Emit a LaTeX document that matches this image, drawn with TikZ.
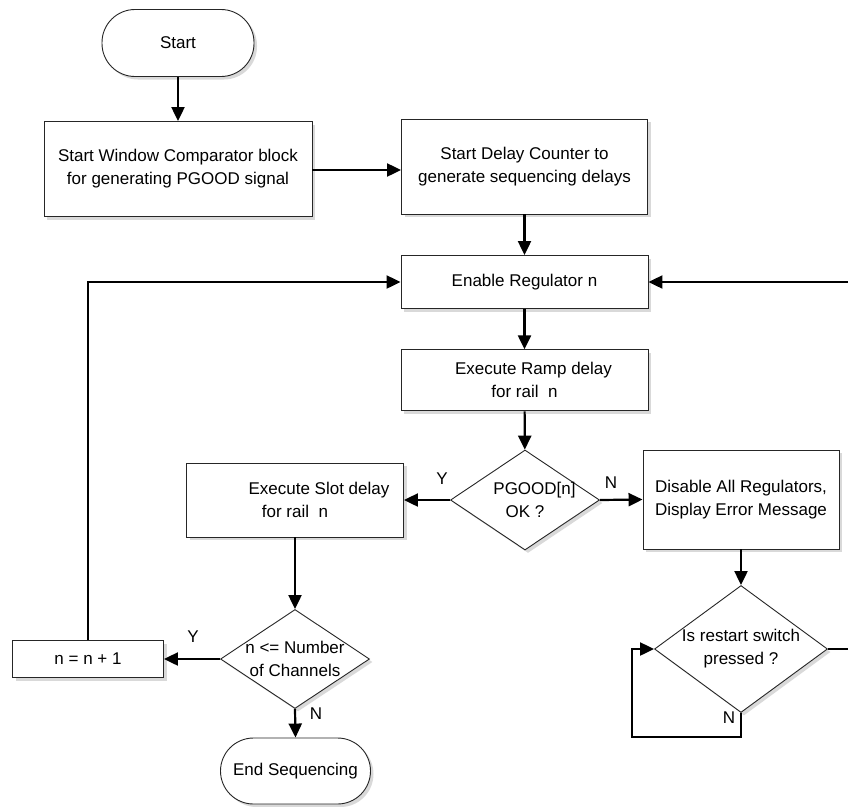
\documentclass[tikz,border=0pt]{standalone}
\usepackage{fontspec}
\setmainfont{Liberation Sans}
\usetikzlibrary{shapes.geometric}
\usetikzlibrary{arrows.meta}
\usetikzlibrary{shadows}
\tikzset{
  fsize/.style={font=\fontsize{17}{23}\selectfont},
  shadebox/.style={drop shadow={shadow xshift=3pt,shadow yshift=-3pt,fill=black!15,opacity=1}},
  terminal/.style={draw=black!85, line width=0.9pt, fill=white, shadebox, rectangle, rounded corners=33pt, inner sep=0pt, fsize},
  process/.style={draw=black!85, line width=0.9pt, fill=white, shadebox, rectangle, inner sep=0pt, align=center, fsize},
  decision/.style={draw=black!85, line width=0.9pt, fill=white, shadebox, diamond, inner sep=0pt},
  dtext/.style={align=center, inner sep=0pt, fsize},
  yn/.style={inner sep=0pt, fsize},
  flow/.style={line width=2.2pt, -{Triangle[length=14pt,width=13pt]}},
}

\begin{document}
\begin{tikzpicture}[x=1pt, y=1pt]
  \useasboundingbox (0,0) rectangle (848,-806);

  % top row
  \node[terminal, minimum width=152pt, minimum height=67pt] (start) at (178,-43) {Start};
  \node[process, minimum width=268pt, minimum height=95pt] (wincomp) at (178,-169) {Start Window Comparator block\\for generating PGOOD signal};
  \node[process, minimum width=246pt, minimum height=95pt] (delay) at (524.5,-166.5) {Start Delay Counter to\\generate sequencing delays};

  % main column
  \node[process, minimum width=247pt, minimum height=53pt] (enable) at (524.5,-282) {Enable Regulator n};
  \node[process, minimum width=247pt, minimum height=61pt] (ramp) at (524.5,-380.3) {\hspace*{18pt}Execute Ramp delay\\for rail~~n};
  \node[decision, minimum width=149pt, minimum height=100pt] (pgood) at (525,-500) {};
  \node[dtext] (pgood-txt) at (pgood) {\hspace*{19pt}PGOOD[n]\\OK ?};

  % left branch
  \node[process, minimum width=217pt, minimum height=74pt] (slot) at (295,-500) {\hspace*{48pt}Execute Slot delay\\for rail~~n};
  \node[decision, minimum width=149pt, minimum height=99pt] (chan) at (295,-659) {};
  \node[dtext] (chan-txt) at (chan) {n <= Number\\of Channels};
  \node[process, minimum width=151pt, minimum height=37pt] (incr) at (88,-659) {n = n + 1};
  \node[terminal, minimum width=150pt, minimum height=66pt] (endseq) at (295.5,-771) {End Sequencing};

  % right branch
  \node[process, minimum width=196pt, minimum height=99pt] (disable) at (741,-499.5) {Disable All Regulators,\\Display Error Message};
  \node[decision, minimum width=173pt, minimum height=127pt] (restart) at (741,-649) {};
  \node[dtext] (restart-txt) at (restart) {Is restart switch\\pressed ?};

  \coordinate (loopc) at (632,-737);
  \coordinate (edge) at (860,-649);

  % connectors
  \draw[flow] (start) -- (wincomp);
  \draw[flow] (wincomp.east |- 0,-170) -- (delay.west |- 0,-170);
  \draw[flow] (delay) -- (enable);
  \draw[flow] (enable) -- (ramp);
  \draw[flow] (ramp) -- (pgood);
  \draw[flow] (pgood.west) -- (slot.east);
  \draw[flow] (pgood.east) -- (disable.west);
  \draw[flow] (slot) -- (chan);
  \draw[flow] (chan.west) -- (incr.east);
  \draw[flow] (chan.south) -- (endseq.north);
  \draw[flow] (incr.north) |- (enable.west);
  \draw[flow] (disable.south) -- (restart.north);
  \draw[flow] (restart.south) |- (loopc) |- (restart.west);
  \draw[flow] (restart.east) -- (edge) |- (enable.east);

  % branch labels
  \node[yn] (pgood-y) at (442,-479) {Y};
  \node[yn] (pgood-n) at (611,-483) {N};
  \node[yn] (chan-y) at (193,-637) {Y};
  \node[yn] (chan-n) at (316,-714) {N};
  \node[yn] (restart-n) at (729,-718) {N};
\end{tikzpicture}
\end{document}
